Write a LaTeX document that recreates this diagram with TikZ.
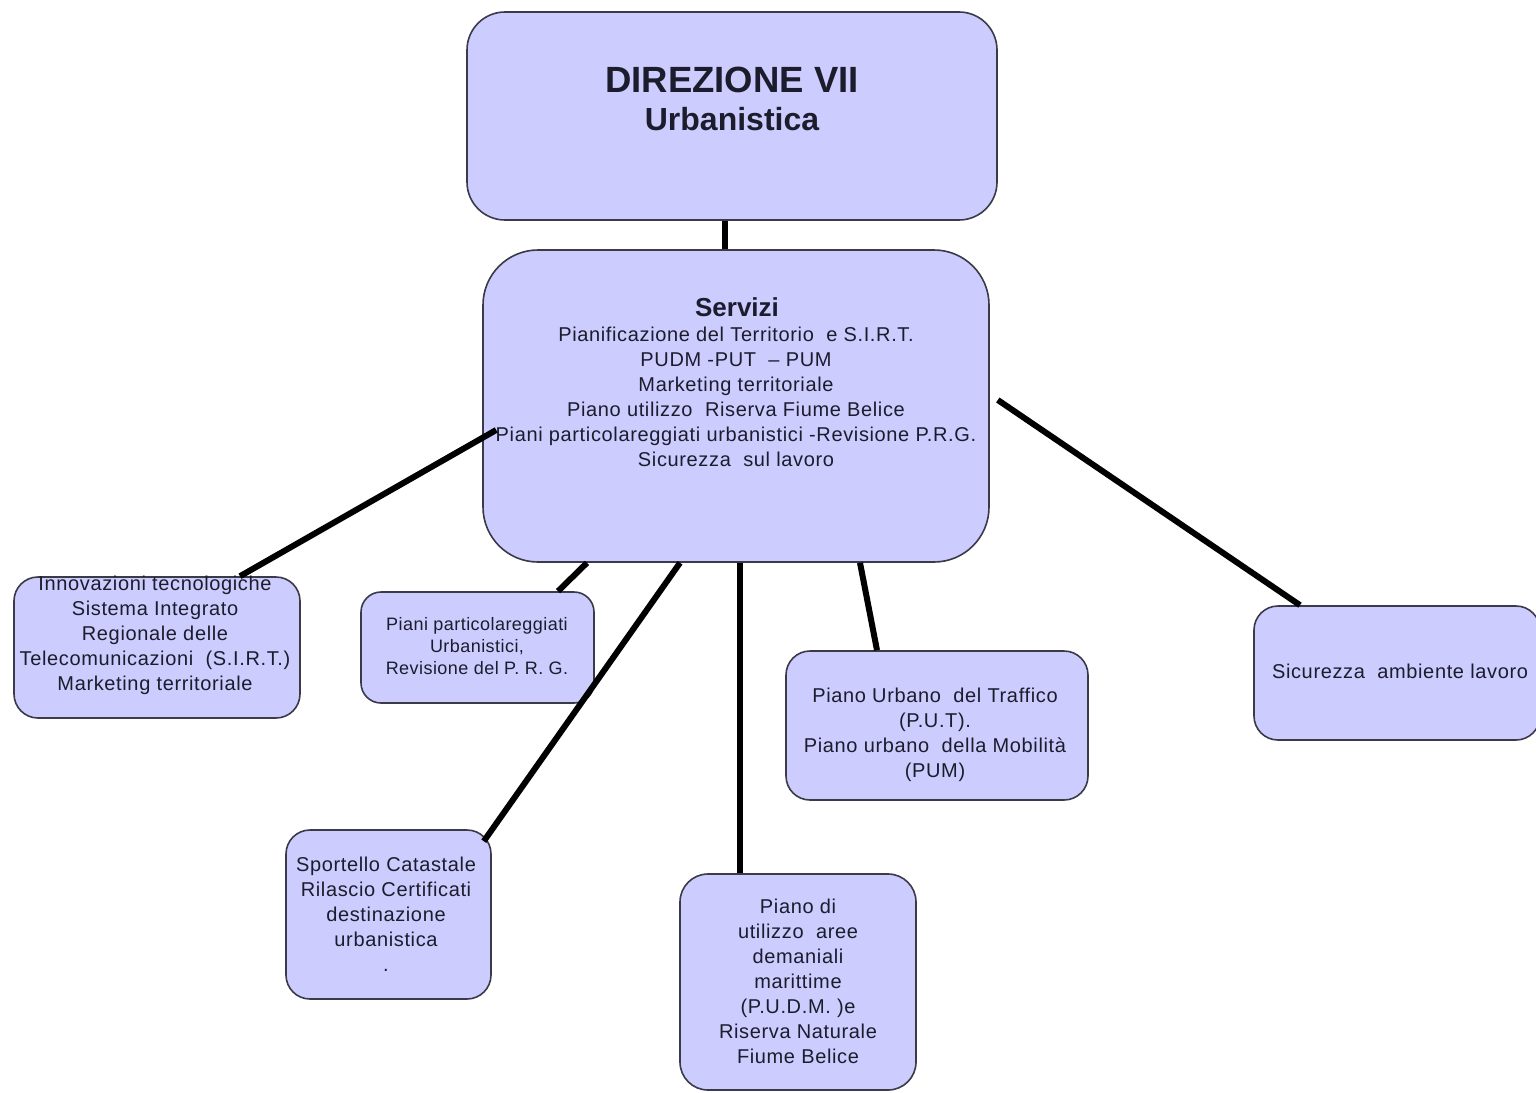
\documentclass[tikz,border=0pt]{standalone}
\usepackage{fontspec}
\setmainfont{Liberation Sans}
\newfontfamily\spcfont[LetterSpace=3.2]{Liberation Sans}
\newfontfamily\spcfontb[LetterSpace=2.5]{Liberation Sans}
\definecolor{boxfill}{HTML}{CCCCFF}
\definecolor{boxline}{HTML}{3A3A48}
\definecolor{txtcol}{HTML}{1C1C2C}
\tikzset{
  box/.style={draw=boxline, line width=1.6pt, fill=boxfill, inner sep=0pt},
  txt/.style={text=txtcol, align=center, inner sep=0pt, font=\spcfont\fontsize{20}{25}\selectfont},
  conn/.style={line width=6pt, black}
}
\begin{document}
\begin{tikzpicture}[x=1pt,y=-1pt]
\clip (0,0) rectangle (1536,1092);
\fill[white] (0,0) rectangle (1536,1092);
% boxes
\node[box, rounded corners=38pt, minimum width=530pt, minimum height=208pt] (top) at (732,116) {};
\node[box, rounded corners=55pt, minimum width=506pt, minimum height=312pt] (serv) at (736,406) {};
\node[box, rounded corners=24pt, minimum width=286pt, minimum height=141pt] (A) at (157,647.5) {};
\node[box, rounded corners=20pt, minimum width=233pt, minimum height=111pt] (B) at (477.5,647.5) {};
\node[box, rounded corners=24pt, minimum width=302pt, minimum height=149pt] (C) at (937,725.5) {};
\node[box, rounded corners=24pt, minimum width=286pt, minimum height=134pt] (D) at (1397,673) {};
\node[box, rounded corners=24pt, minimum width=205pt, minimum height=169pt] (E) at (388.5,914.5) {};
\node[box, rounded corners=28pt, minimum width=236pt, minimum height=216pt] (F) at (798,982) {};
% texts
\node[txt, anchor=base, font=\fontsize{36.5}{40}\selectfont\bfseries] (topT1) at (732,92) {DIREZIONE VII};
\node[txt, anchor=base, font=\fontsize{32}{36}\selectfont\bfseries] (topT2) at (732,130) {Urbanistica};
\node[txt, anchor=base, font=\fontsize{26}{30}\selectfont\bfseries] (servT1) at (737,316) {Servizi};
\node[txt] (servT2) at (736,397) {Pianificazione del Territorio \ e S.I.R.T.\\PUDM -PUT \ \textendash{} PUM\\Marketing territoriale\\Piano utilizzo \ Riserva Fiume Belice\\Piani particolareggiati urbanistici -Revisione P.R.G.\\Sicurezza \ sul lavoro};
\node[txt] (AT) at (155,635) {Innovazioni tecnologiche\\Sistema Integrato\\Regionale delle\\Telecomunicazioni \ (S.I.R.T.)\\Marketing territoriale};
\node[txt, font=\spcfontb\fontsize{18}{22}\selectfont] (BT) at (477,646) {Piani particolareggiati\\Urbanistici,\\Revisione del P. R. G.};
\node[txt] (CT) at (935,734.5) {Piano Urbano \ del Traffico\\(P.U.T).\\Piano urbano \ della Mobilità\\(PUM)};
\node[txt] (DT) at (1400,671) {Sicurezza \ ambiente lavoro};
\node[txt] (ET) at (386,914) {Sportello Catastale\\Rilascio Certificati\\destinazione\\urbanistica\\.};
\node[txt] (FT) at (798,981) {Piano di\\utilizzo \ aree\\demaniali\\marittime\\(P.U.D.M. )e\\Riserva Naturale\\Fiume Belice};
% connectors
\draw[conn] ([xshift=-7pt]top.south) -- ([xshift=-11pt]serv.north);
\draw[conn] ([xshift=14pt,yshift=-24pt]serv.west) -- ([xshift=83pt]A.north);
\draw[conn] ([xshift=-149pt]serv.south) -- ([xshift=80.5pt]B.north);
\draw[conn] ([xshift=-56pt]serv.south) -- ([xshift=-8pt,yshift=-12pt]E.north east);
\draw[conn] ([xshift=4pt]serv.south) -- ([xshift=-58pt]F.north);
\draw[conn] ([xshift=124pt]serv.south) -- ([xshift=-60pt]C.north);
\draw[conn] ([xshift=8pt,yshift=6pt]serv.east) -- ([xshift=-97pt]D.north);
\end{tikzpicture}
\end{document}
